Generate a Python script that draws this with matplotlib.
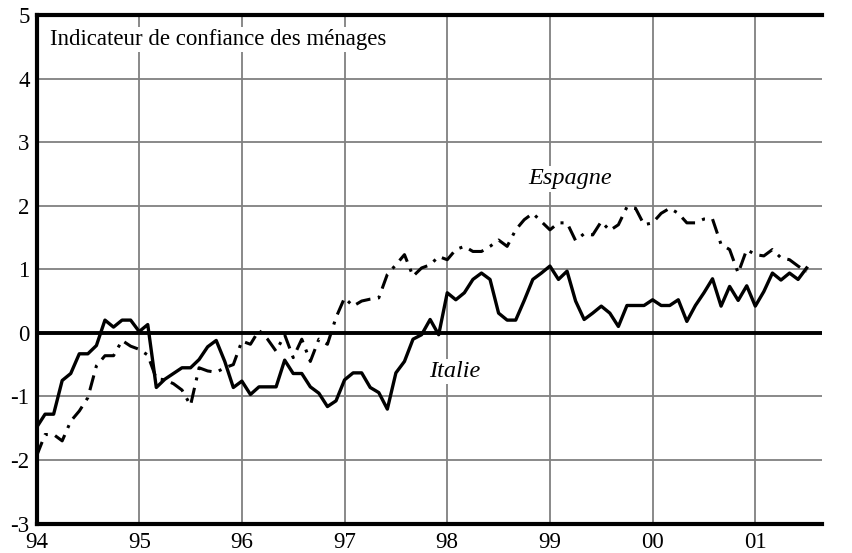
import numpy as np
import matplotlib
matplotlib.use("Agg")
import matplotlib.pyplot as plt

# Monthly data, Jan 1994 .. Jul 2001
italie = [-1.49, -1.28, -1.28, -0.75, -0.64, -0.33, -0.33, -0.20, 0.20, 0.09, 0.20, 0.20,
          0.02, 0.13, -0.86, -0.73, -0.64, -0.55, -0.55, -0.42, -0.22, -0.12, -0.45, -0.86,
          -0.76, -0.97, -0.85, -0.85, -0.85, -0.43, -0.64, -0.64, -0.85, -0.95, -1.16, -1.07,
          -0.74, -0.63, -0.63, -0.86, -0.94, -1.20, -0.63, -0.45, -0.10, -0.03, 0.21, -0.03,
          0.63, 0.52, 0.63, 0.84, 0.94, 0.84, 0.31, 0.20, 0.20, 0.51, 0.84, 0.94,
          1.05, 0.84, 0.97, 0.50, 0.21, 0.31, 0.42, 0.31, 0.10, 0.43, 0.43, 0.43,
          0.52, 0.43, 0.43, 0.52, 0.18, 0.43, 0.63, 0.85, 0.42, 0.73, 0.51, 0.74,
          0.42, 0.65, 0.94, 0.83, 0.94, 0.84, 1.02]
espagne = [-1.94, -1.60, -1.60, -1.70, -1.39, -1.23, -1.02, -0.52, -0.36, -0.36, -0.12, -0.21,
           -0.26, -0.35, -0.72, -0.74, -0.80, -0.90, -1.14, -0.55, -0.60, -0.62, -0.55, -0.50,
           -0.13, -0.18, 0.04, -0.10, -0.29, -0.03, -0.39, -0.10, -0.45, -0.10, -0.18, 0.24,
           0.55, 0.42, 0.50, 0.53, 0.55, 0.92, 1.07, 1.23, 0.89, 1.02, 1.07, 1.20,
           1.15, 1.31, 1.36, 1.28, 1.28, 1.36, 1.46, 1.36, 1.62, 1.78, 1.88, 1.75,
           1.62, 1.73, 1.73, 1.45, 1.56, 1.54, 1.75, 1.61, 1.70, 1.98, 1.96, 1.70,
           1.73, 1.88, 1.96, 1.88, 1.73, 1.73, 1.79, 1.79, 1.39, 1.31, 0.94, 1.31,
           1.23, 1.21, 1.31, 1.18, 1.15, 1.05, 0.96]
year_ticks = [94, 95, 96, 97, 98, 99, 100, 101]
year_labels = ["94", "95", "96", "97", "98", "99", "00", "01"]
y_ticks = [-3, -2, -1, 0, 1, 2, 3, 4, 5]

x = 94 + np.arange(len(italie)) / 12.0

serif = ["Liberation Serif", "DejaVu Serif"]
plt.rcParams["font.family"] = serif

fig = plt.figure(figsize=(8.53, 5.53), dpi=100)
ax = fig.add_axes([0.0428, 0.0533, 0.9209, 0.9196])

ax.set_xlim(94, 101.65)
ax.set_ylim(-3, 5)

ax.set_xticks(year_ticks)
ax.set_xticklabels(year_labels)
ax.set_yticks(y_ticks)
ax.set_yticklabels([str(v) for v in y_ticks])
ax.tick_params(axis="both", length=0, labelsize=16.5, colors="black")
ax.tick_params(axis="y", pad=5)
ax.tick_params(axis="x", pad=6)

ax.grid(True, color="#808080", linewidth=1.3)
ax.set_axisbelow(True)

for side in ["left", "bottom", "top"]:
    ax.spines[side].set_linewidth(3)
    ax.spines[side].set_color("black")
ax.spines["right"].set_visible(False)

ax.axhline(0, color="black", linewidth=2.8, zorder=2)

ax.plot(x, espagne, color="black", linewidth=2.2, linestyle=(0, (5, 2.5, 1, 2.5)), zorder=3)
ax.plot(x, italie, color="black", linewidth=2.4, linestyle="-", zorder=4)

box = dict(facecolor="white", edgecolor="none", pad=1.5)
ax.text(94.13, 4.62, "Indicateur de confiance des ménages", fontsize=16.5,
        ha="left", va="center", bbox=box, zorder=5)
ax.text(99.2, 2.42, "Espagne", fontsize=17.5, style="italic", ha="center", va="center",
        bbox=box, zorder=5)
ax.text(98.07, -0.61, "Italie", fontsize=17.5, style="italic", ha="center", va="center",
        bbox=box, zorder=5)

fig.savefig("out.png", dpi=100)
